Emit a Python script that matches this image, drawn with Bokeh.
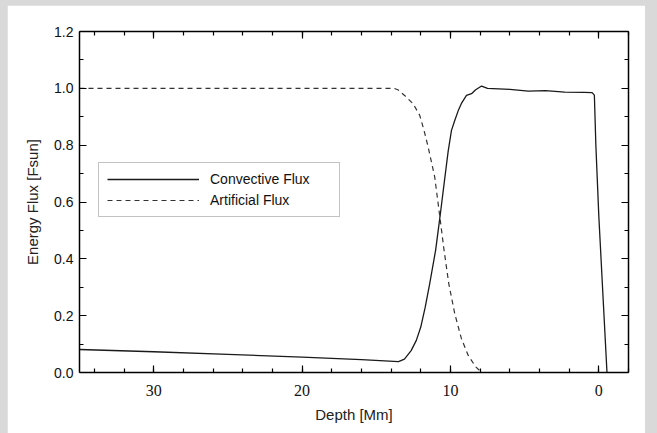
from bokeh.plotting import figure
from bokeh.models import (Range1d, FixedTicker, LinearAxis, PrintfTickFormatter,
                          Legend, LegendItem)
from bokeh.layouts import column
from bokeh.embed import file_html
from bokeh.resources import INLINE

# Convective flux profile (depth in Mm, flux in units of the solar flux)
conv_depth = [35.0, 30.0, 25.0, 20.0, 16.0, 13.5, 13.1, 12.65, 12.3, 12.0, 11.7,
              11.4, 11.0, 10.7, 10.4, 10.15, 9.93, 9.71, 9.45, 9.26, 8.92, 8.58,
              8.3, 7.9, 7.5, 6.0, 4.75, 3.6, 2.3, 1.0, 0.45, 0.3, 0.2, 0.0, -0.3, -0.55]
conv_flux = [0.081, 0.073, 0.064, 0.054, 0.045, 0.038, 0.047, 0.077, 0.113, 0.16, 0.23,
             0.312, 0.43, 0.55, 0.676, 0.78, 0.852, 0.887, 0.925, 0.947, 0.975, 0.981,
             0.995, 1.008, 1.0, 0.996, 0.99, 0.992, 0.987, 0.986, 0.985, 0.976, 0.8,
             0.55, 0.25, 0.0]

# Artificial (imposed) flux profile
art_depth = [35.0, 13.8, 13.54, 13.09, 12.52, 12.07, 11.78, 11.5, 11.06, 10.72,
             10.43, 10.11, 9.71, 9.26, 8.8, 8.3, 7.95]
art_flux = [1.0, 1.0, 0.995, 0.975, 0.946, 0.905, 0.852, 0.793, 0.688, 0.55,
            0.43, 0.312, 0.207, 0.119, 0.06, 0.02, 0.003]

x_major = [30, 20, 10, 0]
x_minor = list(range(34, -3, -2))
y_major = [0.0, 0.2, 0.4, 0.6, 0.8, 1.0, 1.2]
y_minor = [0.1, 0.3, 0.5, 0.7, 0.9, 1.1]

SANS = "Liberation Sans"
SERIF = "Liberation Serif"

p = figure(width=638, height=428, output_backend="svg", toolbar_location=None,
           x_range=Range1d(35, -2), y_range=Range1d(0, 1.2),
           min_border_left=72, min_border_right=17, min_border_top=26,
           min_border_bottom=61, background_fill_color="white",
           border_fill_color="white", outline_line_color=None)
p.grid.visible = False
p.margin = (5, 12, 0, 7)

xt = FixedTicker(ticks=x_major, minor_ticks=x_minor)
yt = FixedTicker(ticks=y_major, minor_ticks=y_minor)

xa = p.below[0]
ya = p.left[0]
xa.ticker = xt
ya.ticker = yt

# Mirror axes on the top and right, ticks only
top = LinearAxis(ticker=xt, major_label_overrides={t: "" for t in x_major})
right = LinearAxis(ticker=yt, major_label_overrides={t: "" for t in y_major})
p.add_layout(top, "above")
p.add_layout(right, "right")

for ax in [xa, ya, top, right]:
    ax.axis_line_color = "black"
    ax.axis_line_width = 1.5
    ax.major_tick_line_color = "black"
    ax.minor_tick_line_color = "black"
    ax.major_tick_line_width = 1.2
    ax.minor_tick_line_width = 1.2
    ax.major_tick_in = 7
    ax.major_tick_out = 0
    ax.minor_tick_in = 4
    ax.minor_tick_out = 0
    ax.major_label_text_color = "#111111"
    ax.axis_label_text_color = "#222222"

for ax in (top, right):
    ax.major_label_standoff = 0

xa.major_label_text_font = SERIF
xa.major_label_text_font_size = "16px"
xa.major_label_standoff = 12
xa.axis_label = "Depth [Mm]"
xa.axis_label_text_font = SANS
xa.axis_label_text_font_size = "15px"
xa.axis_label_text_font_style = "normal"
xa.axis_label_standoff = 7

ya.formatter = PrintfTickFormatter(format="%.1f")
ya.major_label_text_font = SANS
ya.major_label_text_font_size = "14px"
ya.major_label_standoff = 6
ya.axis_label = "Energy Flux [Fsun]"
ya.axis_label_text_font = SANS
ya.axis_label_text_font_size = "15px"
ya.axis_label_text_font_style = "normal"
ya.axis_label_standoff = 10

r_conv = p.line(conv_depth, conv_flux, line_color="#1a1a1a", line_width=1.3)
r_art = p.line(art_depth, art_flux, line_color="#333333", line_width=1.2,
               line_dash="5 4")

legend = Legend(items=[LegendItem(label="Convective Flux", renderers=[r_conv]),
                       LegendItem(label="Artificial Flux", renderers=[r_art])],
                location=(19, 155), glyph_width=92, glyph_height=16,
                label_standoff=11, padding=8, spacing=5, margin=0,
                label_text_font=SANS, label_text_font_size="14px",
                label_width=121, label_text_color="#111111",
                border_line_color="#888888", border_line_width=1.2,
                background_fill_color="white", background_fill_alpha=1)
p.add_layout(legend)

page = column(p, styles={"background-color": "#d9d9d9"})

open("out.html", "w").write(file_html(page, INLINE))
